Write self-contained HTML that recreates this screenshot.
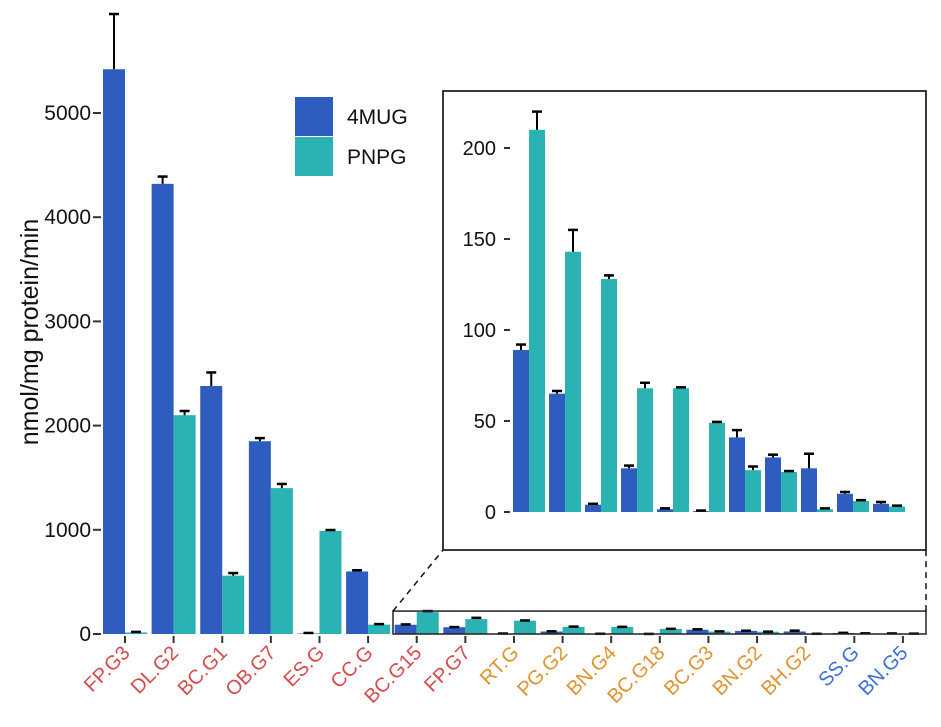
<!DOCTYPE html>
<html><head><meta charset="utf-8"><style>
body{margin:0;background:#fff;}
svg{display:block;font-family:"Liberation Sans",Arial,sans-serif;}
</style></head><body>
<svg id="c" width="941" height="727" viewBox="0 0 941 727"></svg>
<script>
const categories=["FP.G3","DL.G2","BC.G1","OB.G7","ES.G","CC.G","BC.G15","FP.G7","RT.G","PG.G2","BN.G4","BC.G18","BC.G3","BN.G2","BH.G2","SS.G","BN.G5"];
const labelGroup=["r","r","r","r","r","r","r","r","o","o","o","o","o","o","o","b","b"];
const mug=[5420,4320,2380,1850,5,600,89,65,4,24,1.5,0.5,41,30,24,10,4.5];
const mugErr=[530,70,130,30,5,12,3,1.5,0.5,1.5,0.5,0.3,4,1.5,8,1,1];
const pnpg=[15,2100,560,1400,990,90,210,143,128,68,68,49,23,22,1.5,6,3];
const pnpgErr=[5,40,25,40,8,5,10,12,2,3,0.5,0.5,2,0.5,0.5,0.5,0.5];
const mainTicks=[0,1000,2000,3000,4000,5000];
const insetTicks=[0,50,100,150,200];
const insetStart=6;

const NS="http://www.w3.org/2000/svg";
const svg=document.getElementById('c');
function mk(tag,attrs,parent){const e=document.createElementNS(NS,tag);for(const k in attrs)e.setAttribute(k,attrs[k]);(parent||svg).appendChild(e);return e;}
const BLUE="#2f5dbf",TEAL="#2bb2b2";
const LC={r:"#d64b4b",o:"#e0922f",b:"#3a6fd6"};

const y0=634,pxPer=521/5000;
const yM=v=>y0-v*pxPer;
const xM=i=>125+i*48.62;
const bw=22;

const gMain=mk('g',{});



mainTicks.forEach(t=>{
  const y=yM(t);
  const l=mk('line',{x1:93,x2:101,y1:y,y2:y,stroke:'#333','stroke-width':2},gMain);
  
  
  const tx=mk('text',{x:91,y:y+7,'text-anchor':'end','font-size':21,fill:'#111'},gMain);
  tx.textContent=t;
  
  
});

function errbar(g,x,top,val,yf){
  const ln=mk('line',{x1:x,x2:x,y1:yf(val),y2:yf(top),stroke:'#000','stroke-width':2},g);
  
  
  const cap=mk('line',{x1:x-5,x2:x+5,y1:yf(top),y2:yf(top),stroke:'#000','stroke-width':2.5},g);
  
  
}

categories.forEach((c,i)=>{
  const cx=xM(i);
  const b1=mk('rect',{x:cx-bw,y:yM(mug[i]),width:bw,height:Math.max(0,y0-yM(mug[i])),fill:BLUE},gMain);
  
  
  const b2=mk('rect',{x:cx,y:yM(pnpg[i]),width:bw,height:Math.max(0,y0-yM(pnpg[i])),fill:TEAL},gMain);
  
  
  errbar(gMain,cx-bw/2,mug[i]+mugErr[i],mug[i],yM);
  errbar(gMain,cx+bw/2,pnpg[i]+pnpgErr[i],pnpg[i],yM);
  const tk=mk('line',{x1:cx,x2:cx,y1:636,y2:643,stroke:'#333','stroke-width':2},gMain);
  
  
  const tx=mk('text',{x:cx+6,y:654,'text-anchor':'end','font-size':20,fill:LC[labelGroup[i]],transform:`rotate(-45 ${cx+6} 654)`},gMain);
  tx.textContent=c;
  
  
});

const zr=mk('rect',{x:393,y:yM(220),width:533,height:y0-yM(220),fill:'none',stroke:'#222','stroke-width':1.5});


const d1=mk('line',{x1:393,y1:yM(220),x2:443,y2:550,stroke:'#111','stroke-width':1.5,'stroke-dasharray':'6,5'});


const d2=mk('line',{x1:926,y1:yM(220),x2:926,y2:550,stroke:'#111','stroke-width':1.5,'stroke-dasharray':'6,5'});



const yt=mk('text',{x:0,y:0,'text-anchor':'middle','font-size':25,fill:'#111',transform:'translate(38,332) rotate(-90)'});
yt.textContent='nmol/mg protein/min';



const lg=mk('g',{});


[["4MUG",BLUE,97],["PNPG",TEAL,137]].forEach(([n,col,y])=>{
  const r=mk('rect',{x:295,y:y,width:38,height:39,fill:col},lg);
  
  
  const t=mk('text',{x:347,y:y+27,'font-size':21,fill:'#111'},lg);
  t.textContent=n;
  
  
});

const gIn=mk('g',{});


const ib=mk('rect',{x:443,y:91,width:483,height:459,fill:'#fff',stroke:'#222','stroke-width':1.8},gIn);


const iy0=512,ipx=364/200;
const yI=v=>iy0-v*ipx;
const xI=k=>529+k*36;
const ibw=16;
insetTicks.forEach(t=>{
  const y=yI(t);
  const l=mk('line',{x1:504,x2:510,y1:y,y2:y,stroke:'#333','stroke-width':2},gIn);
  
  
  const tx=mk('text',{x:496,y:y+7,'text-anchor':'end','font-size':20,fill:'#111'},gIn);
  tx.textContent=t;
  
  
});
for(let i=insetStart;i<categories.length;i++){
  const k=i-insetStart,cx=xI(k),c=categories[i];
  const b1=mk('rect',{x:cx-ibw,y:yI(mug[i]),width:ibw,height:iy0-yI(mug[i]),fill:BLUE},gIn);
  
  
  const b2=mk('rect',{x:cx,y:yI(pnpg[i]),width:ibw,height:iy0-yI(pnpg[i]),fill:TEAL},gIn);
  
  
  errbar(gIn,cx-ibw/2,mug[i]+mugErr[i],mug[i],yI);
  errbar(gIn,cx+ibw/2,pnpg[i]+pnpgErr[i],pnpg[i],yI);
}
</script>
</body></html>
